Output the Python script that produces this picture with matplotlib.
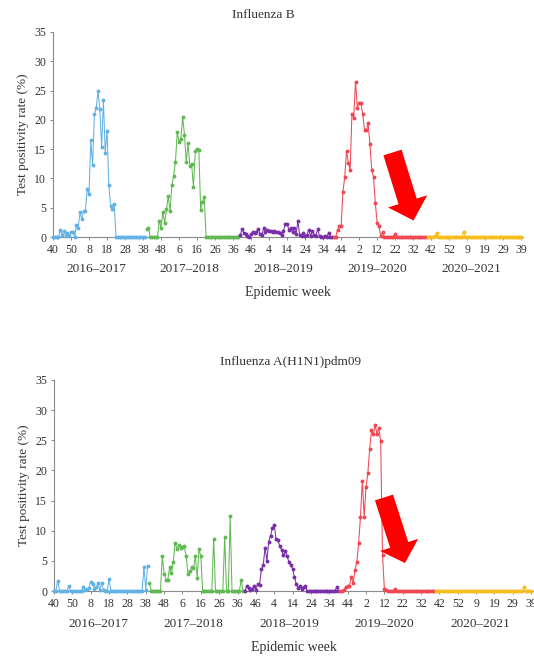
import numpy as np
import matplotlib
matplotlib.use("Agg")
import matplotlib.pyplot as plt
from matplotlib.patches import Polygon
from matplotlib.transforms import blended_transform_factory

# seasons and week tick labels (every 10 weeks starting at week 40 of 2016)
seasons = ["2016–2017", "2017–2018", "2018–2019", "2019–2020", "2020–2021"]
season_weeks = [52, 52, 52, 52, 53]
week_labels = [40, 50, 8, 18, 28, 38, 48, 6, 16, 26, 36, 46, 4, 14, 24, 34,
               44, 2, 12, 22, 32, 42, 52, 9, 19, 29, 39]
season_colors = ["#62b2e6", "#62b954", "#7a2fa8", "#f04752", "#f6bd1c"]

# Influenza B, test positivity rate (%) per week
b_2016 = [0, 0, 0, 0, 1.2, 0.3, 1.1, 0.2, 0.7, 0.2,
          0.8, 0.9, 0, 2.0, 1.6, 4.2, 3.0, 4.5, 4.5, 8.2,
          7.4, 16.6, 12.3, 21.0, 22.0, 25.0, 21.8, 15.3, 23.4, 14.3,
          18.1, 8.8, 5.3, 4.8, 5.6, 0, 0, 0, 0, 0,
          0, 0, 0, 0, 0, 0, 0, 0, 0, 0,
          0, 0]
b_2017 = [1.4, 1.6, 0, 0, 0, 0, 0, 2.8, 1.5, 4.3,
          2.4, 4.7, 7.0, 4.4, 8.8, 10.5, 12.8, 18.0, 16.2, 16.8,
          20.5, 17.5, 12.8, 16.0, 12.2, 12.4, 8.6, 14.6, 15.0, 14.9,
          4.6, 6.0, 6.8, 0, 0, 0, 0, 0, 0, 0,
          0, 0, 0, 0, 0, 0, 0, 0, 0, 0,
          0, 0]
b_2018 = [0.3, 1.4, 0.6, 0.5, 0.2, 0.0, 0.5, 0.8, 0.6, 0.9,
          1.4, 0.5, 0.4, 1.5, 0.8, 1.2, 1.0, 1.1, 0.9, 1.0,
          0.8, 0.9, 0.6, 0.4, 1.0, 2.3, 2.3, 1.2, 1.5, 0.8,
          1.6, 0.5, 2.7, 0.3, 0.2, 0.6, 0.1, 0.3, 1.2, 0.2,
          1.0, 0.3, 0.2, 1.4, 0.1, 0, 0, 0.2, 0, 0.7,
          0, 0]
b_2019 = [0, 0, 1.2, 1.8, 1.8, 7.7, 10.2, 14.7, 12.7, 11.5,
          21.0, 20.4, 26.5, 22.1, 22.9, 22.8, 21.0, 18.2, 18.2, 19.4,
          15.8, 11.5, 10.2, 5.8, 2.4, 1.8, 0.1, 0.9, 0, 0,
          0, 0, 0, 0, 0.5, 0, 0, 0, 0, 0,
          0, 0, 0, 0, 0, 0, 0, 0, 0, 0,
          0, 0]
b_2020 = [0, 0, 0, 0, 0.2, 0.6, 0, 0, 0, 0,
          0, 0, 0, 0, 0, 0, 0, 0, 0, 0,
          0.9, 0, 0, 0, 0, 0, 0, 0, 0, 0,
          0, 0, 0, 0, 0, 0, 0, 0, 0, 0,
          0, 0, 0, 0, 0, 0, 0, 0, 0, 0,
          0, 0, 0]

# Influenza A(H1N1)pdm09
h_2016 = [0, 0, 1.7, 0, 0, 0, 0, 0, 0.8, 0,
          0, 0, 0, 0, 0, 0, 0.7, 0.2, 0.3, 0.5,
          1.5, 1.2, 0.4, 0.6, 1.3, 0.2, 1.3, 0.1, 0, 0,
          2.0, 0, 0, 0, 0, 0, 0, 0, 0, 0,
          0, 0, 0, 0, 0, 0, 0, 0, 0, 4.0,
          0.2, 4.2]
h_2017 = [1.4, 0, 0, 0, 0, 0, 0, 5.8, 2.9, 1.9,
          1.9, 3.9, 3.0, 4.8, 8.0, 7.0, 7.6, 7.2, 7.3, 7.4,
          5.8, 2.9, 3.3, 3.9, 3.8, 5.8, 2.2, 6.9, 5.8, 0,
          0, 0, 0, 0, 0, 8.7, 0, 0, 0, 0,
          0, 9.0, 0, 0, 12.4, 0, 0, 0, 0, 0,
          1.8, 0]
h_2018 = [0, 0.8, 0.5, 0.2, 0.3, 0.9, 0.2, 1.2, 1.0, 3.6,
          4.3, 7.2, 5.0, 8.2, 9.2, 10.4, 11.0, 8.6, 8.4, 7.5,
          6.8, 5.9, 6.6, 5.8, 4.8, 4.3, 3.7, 2.3, 1.2, 0.55,
          0.8, 0.4, 0.7, 0.8, 0, 0, 0, 0, 0, 0,
          0, 0, 0, 0, 0, 0, 0, 0, 0, 0,
          0.6, 0]
h_2019 = [0, 0, 0.2, 0.7, 0.8, 0.9, 2.3, 1.3, 3.5, 4.8,
          8.0, 12.3, 18.3, 12.3, 17.3, 19.5, 23.5, 26.7, 26.0, 27.5,
          26.0, 27.1, 24.8, 5.9, 0.4, 0.1, 0, 0, 0, 0,
          0.4, 0, 0, 0, 0, 0, 0, 0, 0, 0,
          0, 0, 0, 0, 0, 0, 0, 0, 0, 0,
          0, 0]
h_2020 = [0, 0, 0, 0, 0, 0, 0, 0, 0, 0,
          0, 0, 0, 0, 0, 0, 0, 0, 0, 0,
          0, 0, 0, 0, 0, 0, 0, 0, 0, 0,
          0, 0, 0, 0, 0, 0, 0, 0, 0, 0,
          0, 0, 0, 0, 0, 0, 0, 0, 0.6, 0,
          0, 0, 0]

W, H = 534, 664
plt.rcParams["font.family"] = ["Liberation Serif", "DejaVu Serif"]
fig = plt.figure(figsize=(W / 100, H / 100), dpi=100)


def px_rect(left, top, right, bottom):
    return [left / W, 1 - bottom / H, (right - left) / W, (bottom - top) / H]


def draw_panel(ax, series, title, title_x, title_y):
    starts = np.cumsum([0] + season_weeks[:-1])
    for start, values, color in zip(starts, series, season_colors):
        x = start + np.arange(len(values))
        ax.plot(x, values, color=color, lw=0.75, marker="o", ms=1.8,
                mec=color, mfc=color, clip_on=False, zorder=3)

    ax.set_xlim(0, 261)
    ax.set_ylim(0, 35)
    ax.set_xticks(np.arange(0, 261, 10))
    ax.set_xticklabels([str(w) for w in week_labels])
    ax.set_yticks(np.arange(0, 36, 5))
    ax.tick_params(axis="both", labelsize=8.5, color="#8a8a8a", length=2.5,
                   width=0.7, labelcolor="#333333", pad=2.5)
    for side in ("top", "right"):
        ax.spines[side].set_visible(False)
    for side in ("left", "bottom"):
        ax.spines[side].set_color("#8a8a8a")
        ax.spines[side].set_linewidth(0.8)
    ax.set_ylabel("Test positivity rate (%)", fontsize=9.5, color="#333333",
                  labelpad=4)

    trans = blended_transform_factory(ax.transData, ax.transAxes)
    for start, n, name in zip(starts, season_weeks, seasons):
        ax.text(start + n / 2 - 2, -0.155, name, transform=trans,
                ha="center", va="center", fontsize=9.5, color="#333333")
    ax.text(0.5, -0.27, "Epidemic week", transform=ax.transAxes,
            ha="center", va="center", fontsize=10, color="#333333")
    fig.text(title_x / W, 1 - title_y / H, title, ha="center", va="center",
             fontsize=9.5, color="#333333")


def draw_arrow(tail, tip, width, head_width, head_length):
    tail = np.array(tail, float)
    tip = np.array(tip, float)
    d = (tip - tail) / np.linalg.norm(tip - tail)
    n = np.array([-d[1], d[0]])
    base = tip - d * head_length
    pts = [tail + n * width / 2, base + n * width / 2, base + n * head_width / 2,
           tip, base - n * head_width / 2, base - n * width / 2,
           tail - n * width / 2]
    pts = [(p[0] / W, 1 - p[1] / H) for p in pts]
    fig.patches.append(Polygon(pts, closed=True, transform=fig.transFigure,
                               facecolor="#ff0000", edgecolor="none", zorder=10))


ax1 = fig.add_axes(px_rect(53, 32, 523, 237))
draw_panel(ax1, [b_2016, b_2017, b_2018, b_2019, b_2020], "Influenza B", 263, 15)

ax2 = fig.add_axes(px_rect(54, 380, 533, 591))
draw_panel(ax2, [h_2016, h_2017, h_2018, h_2019, h_2020],
           "Influenza A(H1N1)pdm09", 291, 362)

draw_arrow((392.5, 152.5), (413.5, 220.5), 19, 41, 20)
draw_arrow((384, 497.5), (405, 563), 19, 40, 19)

fig.savefig("out.png", dpi=100)
